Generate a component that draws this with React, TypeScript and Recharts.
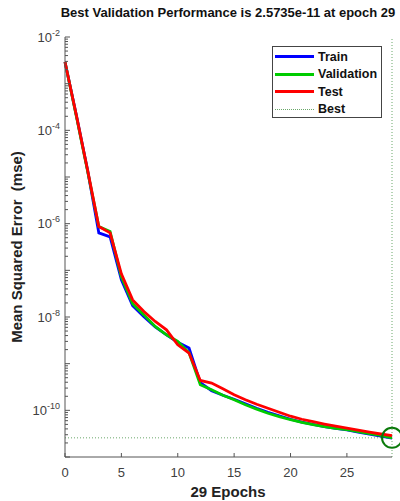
import { LineChart, Line, XAxis, YAxis, ReferenceLine, ReferenceDot } from 'recharts';

const EPOCHS = [0, 1, 2, 3, 4, 5, 6, 7, 8, 9, 10, 11, 12, 13, 14, 15, 16, 17, 18, 19, 20, 21, 22, 23, 24, 25, 26, 27, 28, 29];

const TRAIN = [
  2.92e-3, 2.14e-4, 1.42e-5, 6.35e-7, 5.21e-7, 6.26e-8, 1.74e-8, 1.01e-8, 6.17e-9, 4.16e-9,
  2.87e-9, 2.16e-9, 3.9e-10, 2.63e-10, 2.1e-10, 1.73e-10, 1.38e-10, 1.11e-10, 9.1e-11, 7.66e-11,
  6.44e-11, 5.61e-11, 4.99e-11, 4.5e-11, 4.12e-11, 3.8e-11, 3.43e-11, 3.09e-11, 2.81e-11, 2.53e-11,
];

const VALIDATION = [
  2.92e-3, 2.03e-4, 1.35e-5, 8.67e-7, 6.78e-7, 7.26e-8, 1.92e-8, 1.11e-8, 6.26e-9, 4.16e-9,
  2.99e-9, 1.71e-9, 3.53e-10, 2.76e-10, 2.1e-10, 1.69e-10, 1.32e-10, 1.06e-10, 8.67e-11, 7.3e-11,
  6.29e-11, 5.53e-11, 4.94e-11, 4.48e-11, 4.12e-11, 3.85e-11, 3.48e-11, 3.17e-11, 2.9e-11, 2.5735e-11,
];

const TEST = [
  2.92e-3, 2.14e-4, 1.42e-5, 8.67e-7, 6.35e-7, 8.41e-8, 2.33e-8, 1.31e-8, 8.02e-9, 5.32e-9,
  2.54e-9, 1.69e-9, 4.37e-10, 3.85e-10, 2.9e-10, 2.16e-10, 1.69e-10, 1.35e-10, 1.11e-10, 9.1e-11,
  7.48e-11, 6.44e-11, 5.7e-11, 5.09e-11, 4.59e-11, 4.18e-11, 3.75e-11, 3.4e-11, 3.11e-11, 2.86e-11,
];

const BEST_EPOCH = 29;
const BEST_PERF = 2.5735e-11;

const X_TICKS = [0, 5, 10, 15, 20, 25];
const Y_MAJOR_EXP = [-2, -4, -6, -8, -10];
const Y_DOMAIN = [1e-11, 1e-2];

const FONT = '"Liberation Sans", Arial, Helvetica, sans-serif';
const PLOT_LEFT = 65;
const PLOT_BOTTOM = 457;

const data = EPOCHS.map((epoch, i) => ({
  epoch,
  train: TRAIN[i],
  validation: VALIDATION[i],
  test: TEST[i],
}));

// log ticks: every decade plus the 2..9 minor ones
const yTicks: number[] = [];
for (let e = -11; e < -2; e++) {
  for (let m = 1; m < 10; m++) yTicks.push(Number((m * Math.pow(10, e)).toPrecision(3)));
}
yTicks.push(1e-2);

function YTick(props: any) {
  const { y, payload } = props;
  const lg = Math.log10(payload.value);
  const exp = Math.round(lg);
  const isDecade = Math.abs(lg - exp) < 1e-6;
  const labelled = isDecade && Y_MAJOR_EXP.includes(exp);
  return (
    <g>
      <line x1={PLOT_LEFT} x2={PLOT_LEFT + (isDecade ? 5 : 3)} y1={y} y2={y} stroke="#555" strokeWidth={1} />
      {labelled && (
        <text x={PLOT_LEFT - 5} y={y + 4.5} textAnchor="end" fill="#404040" fontSize={13} fontFamily={FONT}>
          <tspan>10</tspan>
          <tspan dy={-6} fontSize={9}>{String(exp)}</tspan>
        </text>
      )}
    </g>
  );
}

function XTick(props: any) {
  const { x, payload } = props;
  return (
    <g>
      <line x1={x} x2={x} y1={PLOT_BOTTOM} y2={PLOT_BOTTOM - 4} stroke="#555" strokeWidth={1} />
      <text x={x} y={PLOT_BOTTOM + 20} textAnchor="middle" fill="#404040" fontSize={13} fontFamily={FONT}>
        {payload.value}
      </text>
    </g>
  );
}

const LEGEND_ITEMS = [
  { name: 'Train', color: '#0000ff', dotted: false },
  { name: 'Validation', color: '#00cc00', dotted: false },
  { name: 'Test', color: '#ff0000', dotted: false },
  { name: 'Best', color: '#6aa86a', dotted: true },
];

export default function App() {
  return (
    <div style={{ position: 'absolute', left: 0, top: 0, width: 400, height: 501, background: '#fff', fontFamily: FONT }}>
      <div
        style={{
          position: 'absolute', left: 0, width: 457, top: 5, textAlign: 'center',
          fontSize: 13, fontWeight: 'bold', color: '#111', whiteSpace: 'nowrap', lineHeight: '16px',
          transform: 'translateX(0px)',
        }}
      >
        <span style={{ position: 'absolute', left: 228, transform: 'translateX(-50%)' }}>
          Best Validation Performance is 2.5735e-11 at epoch 29
        </span>
      </div>

      <LineChart width={400} height={501} data={data} margin={{ top: 37, right: 8, bottom: 0, left: 0 }}>
        <XAxis
          dataKey="epoch"
          type="number"
          domain={[0, 29]}
          ticks={X_TICKS}
          interval={0}
          height={44}
          tickLine={false}
          axisLine={{ stroke: '#555' }}
          tick={<XTick />}
        />
        <YAxis
          scale="log"
          domain={Y_DOMAIN}
          ticks={yTicks}
          interval={0}
          width={65}
          tickLine={false}
          allowDataOverflow
          axisLine={{ stroke: '#555' }}
          tick={<YTick />}
        />
        <ReferenceLine y={BEST_PERF} stroke="#6aa86a" strokeDasharray="1 2" strokeWidth={1} />
        <ReferenceLine x={BEST_EPOCH} stroke="#6aa86a" strokeDasharray="1 2" strokeWidth={1} />
        <Line dataKey="train" stroke="#0000ff" strokeWidth={2.8} dot={false} isAnimationActive={false} type="linear" />
        <Line dataKey="validation" stroke="#00cc00" strokeWidth={2.8} dot={false} isAnimationActive={false} type="linear" />
        <Line dataKey="test" stroke="#ff0000" strokeWidth={2.8} dot={false} isAnimationActive={false} type="linear" />
        <ReferenceDot x={BEST_EPOCH} y={BEST_PERF} r={10} fill="none" stroke="#0a7a0a" strokeWidth={2} />
      </LineChart>

      <div
        style={{
          position: 'absolute', left: 0, top: 483, width: 457, fontSize: 15, fontWeight: 'bold',
          color: '#222', lineHeight: '18px',
        }}
      >
        <span style={{ position: 'absolute', left: 228, transform: 'translateX(-50%)', whiteSpace: 'nowrap' }}>29 Epochs</span>
      </div>

      <div
        style={{
          position: 'absolute', left: 17, top: 247, fontSize: 15, fontWeight: 'bold', color: '#222',
          whiteSpace: 'nowrap', transform: 'translate(-50%, -50%) rotate(-90deg)', lineHeight: '18px',
        }}
      >
        Mean Squared Error&nbsp; (mse)
      </div>

      <div
        style={{
          position: 'absolute', left: 272, top: 46, width: 108, height: 70, border: '1px solid #444',
          background: '#fff',
        }}
      >
        {LEGEND_ITEMS.map((item, i) => (
          <div key={item.name} style={{ position: 'absolute', left: 2, top: 1 + i * 17.6, height: 17, display: 'flex', alignItems: 'center' }}>
            <div
              style={{
                width: 39,
                height: 0,
                borderTop: item.dotted ? `1px dotted ${item.color}` : `3px solid ${item.color}`,
              }}
            />
            <span style={{ marginLeft: 4, fontSize: 12.5, fontWeight: 'bold', color: '#111' }}>{item.name}</span>
          </div>
        ))}
      </div>
    </div>
  );
}
